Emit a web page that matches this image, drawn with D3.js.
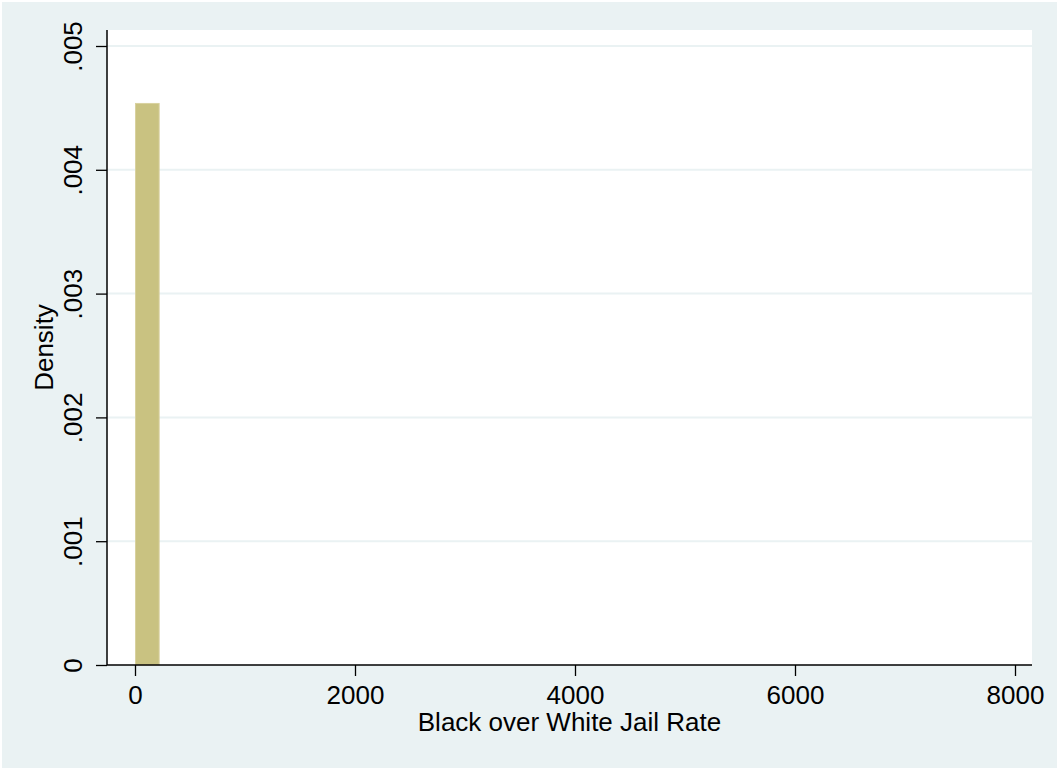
<!DOCTYPE html>
<html>
<head>
<meta charset="utf-8">
<script src="https://cdn.jsdelivr.net/npm/d3@7"></script>
<style>
  html, body { margin: 0; padding: 0; background: #ffffff; }
  svg { display: block; }
  text { font-family: "Liberation Sans", Arial, sans-serif; fill: #000; }
</style>
</head>
<body>
<svg id="chart" width="1057" height="768"></svg>
<script>
// Histogram of the black-over-white jail rate ratio (density scale)
const binStart = 0;
const binWidth = 224;
const binDensities = [
  0.00454, 0, 0, 0, 0, 0, 0, 0, 0, 0, 0, 0,
  0, 0, 0, 0, 0, 0, 0, 0, 0, 0, 0, 0,
  0, 0, 0, 0, 0, 0, 0, 0, 0, 0, 0, 0
];
const xTicks = [0, 2000, 4000, 6000, 8000];
const yTicks = [0, 0.001, 0.002, 0.003, 0.004, 0.005];
const yTickLabels = ["0", ".001", ".002", ".003", ".004", ".005"];
const xTitle = "Black over White Jail Rate";
const yTitle = "Density";

const W = 1057, H = 768;
const plot = { left: 107, right: 1032, top: 30, bottom: 665 };
const bg = "#eaf2f3";

const svg = d3.select("#chart");

// outer graph region
svg.append("rect").attr("x", 2).attr("y", 2).attr("width", W - 2).attr("height", H - 2).attr("fill", bg);
// plot region
svg.append("rect")
  .attr("x", plot.left).attr("y", plot.top)
  .attr("width", plot.right - plot.left).attr("height", plot.bottom - plot.top)
  .attr("fill", "#ffffff");

const x = d3.scaleLinear().domain([0, 8000]).range([135, 1015]);
const y = d3.scaleLinear().domain([0, 0.005]).range([plot.bottom, 46]);

// horizontal grid lines
svg.append("g").selectAll("line")
  .data(yTicks.filter(d => d > 0))
  .join("line")
  .attr("x1", plot.left).attr("x2", plot.right)
  .attr("y1", d => y(d)).attr("y2", d => y(d))
  .attr("stroke", bg).attr("stroke-width", 2);

// histogram bars
const bins = binDensities.map((d, i) => ({ x0: binStart + i * binWidth, x1: binStart + (i + 1) * binWidth, density: d }));
svg.append("g").selectAll("rect")
  .data(bins.filter(b => b.density > 0))
  .join("rect")
  .attr("x", b => x(b.x0) + 0.5)
  .attr("y", b => y(b.density) + 0.5)
  .attr("width", b => x(b.x1) - x(b.x0) - 1)
  .attr("height", b => y(0) - y(b.density) - 0.5)
  .attr("fill", "#c9c281")
  .attr("stroke", "#d8d19f")
  .attr("stroke-width", 1);

// y axis
const yAxis = d3.axisLeft(y).tickValues(yTicks).tickSize(11).tickPadding(0).tickFormat((d, i) => yTickLabels[i]);
const gy = svg.append("g").attr("transform", `translate(${plot.left},0)`).call(yAxis);
gy.select(".domain").remove();
gy.selectAll(".tick line").attr("stroke", "#000").attr("stroke-width", 1.3);
gy.selectAll(".tick text")
  .attr("font-size", 26)
  .attr("text-anchor", "middle")
  .attr("x", null).attr("dy", null)
  .attr("transform", function() { return "translate(" + (82 - plot.left) + ",0) rotate(-90)"; })
  .attr("y", 0);
svg.append("line")
  .attr("x1", plot.left).attr("x2", plot.left)
  .attr("y1", plot.top).attr("y2", plot.bottom)
  .attr("stroke", "#000").attr("stroke-width", 1.5);

// x axis
const xAxis = d3.axisBottom(x).tickValues(xTicks).tickSize(11).tickPadding(4).tickFormat(d3.format("d"));
const gx = svg.append("g").attr("transform", `translate(0,${plot.bottom})`).call(xAxis);
gx.select(".domain").remove();
gx.selectAll(".tick line").attr("stroke", "#000").attr("stroke-width", 1.3);
gx.selectAll(".tick text").attr("font-size", 26).attr("dy", null).attr("y", 39);
svg.append("line")
  .attr("x1", plot.left).attr("x2", plot.right)
  .attr("y1", plot.bottom).attr("y2", plot.bottom)
  .attr("stroke", "#000").attr("stroke-width", 1.5);

// axis titles
svg.append("text")
  .attr("x", (plot.left + plot.right) / 2).attr("y", 731)
  .attr("text-anchor", "middle").attr("font-size", 26)
  .text(xTitle);
svg.append("text")
  .attr("transform", `translate(53,${(plot.top + plot.bottom) / 2}) rotate(-90)`)
  .attr("text-anchor", "middle").attr("font-size", 26)
  .text(yTitle);
</script>
</body>
</html>
